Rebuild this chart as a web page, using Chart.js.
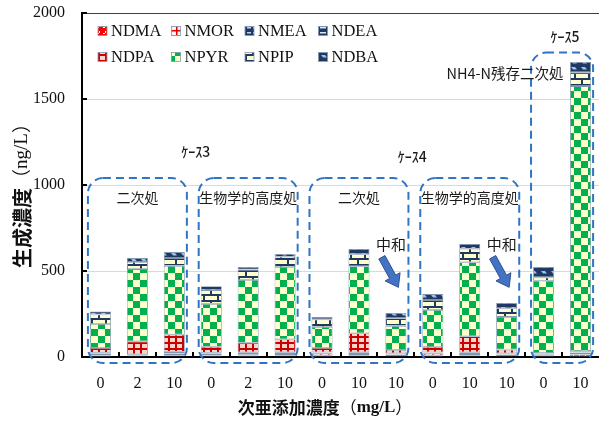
<!DOCTYPE html>
<html>
<head>
<meta charset="utf-8">
<script src="https://cdn.jsdelivr.net/npm/chart.js@4/dist/chart.umd.min.js"></script>
<style>
  html, body { margin: 0; padding: 0; background: #ffffff; }
  #wrap { width: 599px; height: 421px; }
</style>
</head>
<body>
<div id="wrap"><canvas id="c" width="599" height="421"></canvas></div>
<script>
// 次亜添加濃度 (mg/L) for each bar
const categories = ['0', '2', '10', '0', '2', '10', '0', '10', '10', '0', '10', '10', '0', '10'];

// 生成濃度 (ng/L) per nitrosamine
const NDMA = [8, 5, 5, 8, 8, 5, 10, 5, 5, 10, 5, 5, 10, 15];
const NMOR = [10, 3, 5, 10, 5, 5, 12, 5, 8, 12, 5, 8, 5, 10];
const NMEA = [3, 3, 10, 3, 5, 8, 3, 8, 3, 3, 8, 3, 2, 2];
const NDEA = [3, 5, 10, 3, 10, 10, 3, 10, 5, 3, 10, 5, 3, 3];
const NDPA = [28, 75, 100, 35, 55, 75, 24, 110, 20, 30, 93, 22, 3, 5];
const NPYR = [140, 420, 400, 250, 365, 420, 122, 390, 140, 215, 430, 190, 420, 1540];
const NPIP = [55, 42, 45, 80, 60, 60, 45, 70, 45, 58, 78, 50, 20, 80];
const NDBA = [18, 22, 35, 22, 15, 16, 14, 30, 30, 35, 28, 31, 60, 60];

const seriesNames = ['NDMA', 'NMOR', 'NMEA', 'NDEA', 'NDPA', 'NPYR', 'NPIP', 'NDBA'];
const seriesData = [NDMA, NMOR, NMEA, NDEA, NDPA, NPYR, NPIP, NDBA];

const yTicks = [0, 500, 1000, 1500, 2000];

// Treatment groups: [first index, last index, label, top of frame in ng/L]
const groupFirst = [0, 3, 6, 9, 12];
const groupLast = [2, 5, 8, 11, 13];
const groupLabels = ['二次処', '生物学的高度処', '二次処', '生物学的高度処', ''];
const groupTop = [1040, 1040, 1040, 1040, 1770];

const caseLabels = ['ｹｰｽ3', 'ｹｰｽ4', 'ｹｰｽ5'];
const neutralIdx = [8, 11];

// ---------- fill patterns ----------
function tile(w, h, draw) {
  const c = document.createElement('canvas');
  c.width = w; c.height = h;
  const g = c.getContext('2d');
  draw(g, w, h);
  return g.createPattern(c, 'repeat');
}
const NAVY = '#1f3864';
const patterns = {
  NDMA: tile(6, 6, (g) => {
    g.fillStyle = '#ff0000'; g.fillRect(0, 0, 6, 6);
    g.fillStyle = '#ffffff'; g.fillRect(1, 3, 2, 1); g.fillRect(3, 1, 1, 2);
  }),
  NMOR: tile(8, 5, (g) => {
    g.fillStyle = '#fff2f0'; g.fillRect(0, 0, 8, 5);
    g.fillStyle = '#e00000'; g.fillRect(0, 0, 8, 1.5); g.fillRect(0, 0, 1.5, 5);
  }),
  NMEA: tile(6, 5, (g) => {
    g.fillStyle = NAVY; g.fillRect(0, 0, 6, 5);
    g.fillStyle = '#bdd7ee'; g.fillRect(1, 2, 4, 1.5);
  }),
  NDEA: tile(8, 5, (g) => {
    g.fillStyle = NAVY; g.fillRect(0, 0, 8, 5);
    g.fillStyle = '#dbe9f7'; g.fillRect(0, 2, 6, 1.5);
  }),
  NDPA: tile(7, 6, (g) => {
    g.fillStyle = '#f9d6cc'; g.fillRect(0, 0, 7, 6);
    g.fillStyle = '#cc0000'; g.fillRect(0, 0, 7, 2); g.fillRect(0, 0, 2, 6);
  }),
  NPYR: tile(14, 14, (g) => {
    g.fillStyle = '#ffffcc'; g.fillRect(0, 0, 14, 14);
    g.fillStyle = '#00b050'; g.fillRect(0, 0, 7, 7); g.fillRect(7, 7, 7, 7);
  }),
  NPIP: tile(14, 12, (g) => {
    g.fillStyle = '#ffffcc'; g.fillRect(0, 0, 14, 12);
    g.fillStyle = NAVY;
    g.fillRect(0, 0, 14, 2); g.fillRect(0, 6, 14, 2);
    g.fillRect(0, 0, 2, 6); g.fillRect(7, 6, 2, 6);
  }),
  NDBA: tile(10, 6, (g) => {
    g.fillStyle = NAVY; g.fillRect(0, 0, 10, 6);
    g.fillStyle = '#9dc3e6';
    g.beginPath(); g.moveTo(1, 1); g.lineTo(5, 1); g.lineTo(7, 3.5); g.lineTo(3, 3.5); g.closePath(); g.fill();
  })
};

const datasets = seriesNames.map((name, i) => ({
  label: name,
  data: seriesData[i],
  backgroundColor: patterns[name],
  borderColor: '#8497b0',
  borderWidth: 0.8,
  borderSkipped: false,
  barPercentage: 0.57,
  categoryPercentage: 1.0
}));

// ---------- drawing helpers ----------
function roundRect(ctx, x, y, w, h, r) {
  ctx.beginPath();
  ctx.moveTo(x + r, y);
  ctx.lineTo(x + w - r, y);
  ctx.arcTo(x + w, y, x + w, y + r, r);
  ctx.lineTo(x + w, y + h - r);
  ctx.arcTo(x + w, y + h, x + w - r, y + h, r);
  ctx.lineTo(x + r, y + h);
  ctx.arcTo(x, y + h, x, y + h - r, r);
  ctx.lineTo(x, y + r);
  ctx.arcTo(x, y, x + r, y, r);
  ctx.closePath();
}

function blockArrow(ctx, x1, y1, x2, y2) {
  const dx = x2 - x1, dy = y2 - y1;
  const len = Math.hypot(dx, dy);
  const ux = dx / len, uy = dy / len;
  const nx = -uy, ny = ux;
  const sw = 3.5, hw = 8.5, hl = 12;
  const bx = x2 - ux * hl, by = y2 - uy * hl;
  ctx.beginPath();
  ctx.moveTo(x1 + nx * sw, y1 + ny * sw);
  ctx.lineTo(bx + nx * sw, by + ny * sw);
  ctx.lineTo(bx + nx * hw, by + ny * hw);
  ctx.lineTo(x2, y2);
  ctx.lineTo(bx - nx * hw, by - ny * hw);
  ctx.lineTo(bx - nx * sw, by - ny * sw);
  ctx.lineTo(x1 - nx * sw, y1 - ny * sw);
  ctx.closePath();
  ctx.fillStyle = '#4472c4';
  ctx.fill();
  ctx.strokeStyle = '#2f528f';
  ctx.lineWidth = 1;
  ctx.stroke();
}

// text built from runs in different fonts, centred at (cx, cy)
function mixedText(ctx, runs, cx, cy) {
  let total = 0;
  runs.forEach(r => { ctx.font = r.font; r.w = ctx.measureText(r.text).width; total += r.w; });
  let x = cx - total / 2;
  ctx.textBaseline = 'middle';
  ctx.textAlign = 'left';
  runs.forEach(r => { ctx.font = r.font; ctx.fillText(r.text, x, cy); x += r.w; });
}

const JP = '"Noto Sans CJK JP", "Noto Sans", sans-serif';
const SERIF = '"Liberation Serif", "DejaVu Serif", serif';

const decorations = {
  id: 'decorations',
  afterDatasetsDraw(chart) {
    const { ctx, chartArea: a } = chart;
    const xs = chart.scales.x, ys = chart.scales.y;
    const step = xs.getPixelForValue(1) - xs.getPixelForValue(0);
    ctx.save();

    // inward tick marks
    ctx.strokeStyle = '#000'; ctx.lineWidth = 2;
    for (let i = 0; i < categories.length - 1; i++) {
      const x = Math.round((xs.getPixelForValue(i) + xs.getPixelForValue(i + 1)) / 2);
      ctx.beginPath(); ctx.moveTo(x, a.bottom); ctx.lineTo(x, a.bottom - 5); ctx.stroke();
    }
    yTicks.forEach(v => {
      const y = Math.round(ys.getPixelForValue(v));
      ctx.beginPath(); ctx.moveTo(a.left, y); ctx.lineTo(a.left + 5, y); ctx.stroke();
    });

    // dashed group frames
    ctx.strokeStyle = '#2e75c6'; ctx.lineWidth = 2; ctx.setLineDash([8, 5]);
    groupFirst.forEach((f, gi) => {
      const l = xs.getPixelForValue(f) - step * 0.34;
      const r = Math.min(xs.getPixelForValue(groupLast[gi]) + step * 0.34, chart.width - 2);
      const t = ys.getPixelForValue(groupTop[gi]);
      const b = a.bottom + 6;
      roundRect(ctx, l, t, r - l, b - t, 15);
      ctx.stroke();
    });
    ctx.setLineDash([]);

    // group captions
    ctx.fillStyle = '#1a1a1a';
    ctx.textAlign = 'center'; ctx.textBaseline = 'middle';
    ctx.font = '14px ' + JP;
    groupFirst.forEach((f, gi) => {
      if (!groupLabels[gi]) return;
      const cx = (xs.getPixelForValue(f) + xs.getPixelForValue(groupLast[gi])) / 2;
      ctx.fillText(groupLabels[gi], cx, ys.getPixelForValue(924));
    });

    // case captions
    ctx.font = '500 14px ' + JP;
    const mid = (i, j) => (xs.getPixelForValue(i) + xs.getPixelForValue(j)) / 2;
    ctx.fillText(caseLabels[0], mid(2, 3) + 3, ys.getPixelForValue(1192));
    ctx.fillText(caseLabels[1], mid(8, 9) - 2, ys.getPixelForValue(1163));
    ctx.fillText(caseLabels[2], mid(12, 13) + 3, ys.getPixelForValue(1860));

    // NH4-N caption for case 5
    ctx.textAlign = 'right';
    ctx.font = '14.5px ' + JP;
    ctx.fillText('NH4-N残存二次処', xs.getPixelForValue(13) - 17, ys.getPixelForValue(1650));

    // neutralisation notes with arrows
    ctx.textAlign = 'center';
    ctx.font = '15px ' + JP;
    neutralIdx.forEach(i => {
      const cx = xs.getPixelForValue(i);
      ctx.fillStyle = '#1a1a1a';
      ctx.fillText('中和', cx - 5, ys.getPixelForValue(657));
      blockArrow(ctx, cx - 14, ys.getPixelForValue(580), cx + 2.5, ys.getPixelForValue(405));
    });

    // legend
    const lx0 = a.left + 16, colW = 73.5;
    const rowY = [a.top + 18, a.top + 44];
    ctx.font = '16.5px ' + SERIF;
    ctx.textAlign = 'left'; ctx.textBaseline = 'middle';
    seriesNames.forEach((name, i) => {
      const col = i % 4, row = Math.floor(i / 4);
      const x = lx0 + col * colW, y = rowY[row];
      ctx.fillStyle = patterns[name];
      ctx.fillRect(x, y - 4.5, 9, 9);
      ctx.strokeStyle = '#8497b0'; ctx.lineWidth = 0.8;
      ctx.strokeRect(x, y - 4.5, 9, 9);
      ctx.fillStyle = '#111';
      ctx.fillText(name, x + 13, y + 1);
    });

    // axis titles
    ctx.fillStyle = '#111';
    mixedText(ctx, [
      { text: '次亜添加濃度', font: 'bold 17px ' + JP },
      { text: '（', font: '17px ' + JP },
      { text: 'mg/L', font: 'bold 17px ' + SERIF },
      { text: '）', font: '17px ' + JP }
    ], 325, 408);

    ctx.save();
    ctx.translate(22, 191);
    ctx.rotate(-Math.PI / 2);
    mixedText(ctx, [
      { text: '生成濃度', font: 'bold 20px ' + JP },
      { text: '（', font: '19px ' + JP },
      { text: 'ng/L', font: '19px ' + SERIF },
      { text: '）', font: '19px ' + JP }
    ], 0, 0);
    ctx.restore();

    ctx.restore();
  }
};

new Chart(document.getElementById('c'), {
  type: 'bar',
  data: { labels: categories, datasets },
  options: {
    responsive: false,
    animation: false,
    layout: { padding: { left: 31, right: 0, top: 13, bottom: 0 } },
    plugins: { legend: { display: false }, tooltip: { enabled: false } },
    scales: {
      x: {
        stacked: true,
        grid: { display: false, drawTicks: false },
        border: { display: true, color: '#000', width: 2 },
        ticks: { font: { family: SERIF, size: 16 }, color: '#111', padding: 17, maxRotation: 0, autoSkip: false },
        afterFit: (s) => { s.height = 64; s.paddingLeft = 0; s.paddingRight = 0; }
      },
      y: {
        stacked: true,
        min: 0, max: 2000,
        afterBuildTicks: (s) => { s.ticks = yTicks.map(v => ({ value: v })); },
        grid: {
          drawTicks: false,
          color: (c) => c.tick.value === 2000 ? '#404040' : (c.tick.value === 0 ? 'rgba(0,0,0,0)' : '#d9d9d9'),
          lineWidth: 1
        },
        border: { display: true, color: '#000', width: 2 },
        ticks: { font: { family: SERIF, size: 16 }, color: '#111', padding: 17, callback: (v) => String(v) },
        afterFit: (s) => { s.width = 51; s.paddingTop = 0; s.paddingBottom = 0; }
      }
    }
  },
  plugins: [decorations]
});
</script>
</body>
</html>
